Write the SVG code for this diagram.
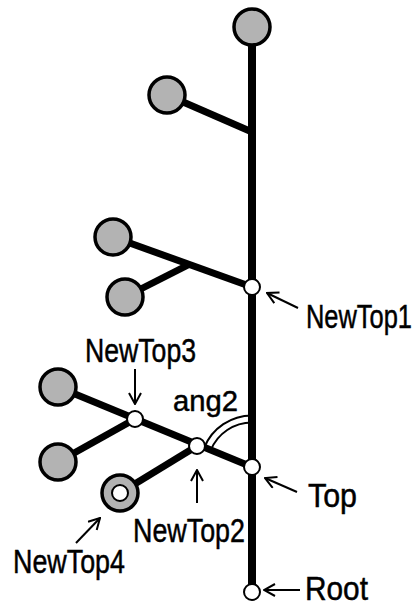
<svg xmlns="http://www.w3.org/2000/svg" width="417" height="605" viewBox="0 0 417 605">
<style>
.edge{stroke:#000;stroke-width:7;stroke-linecap:butt;fill:none}
.main{stroke:#000;stroke-width:8;fill:none}
.leaf{fill:#b3b3b3;stroke:#000;stroke-width:3.5}
.pt{fill:#fff;stroke:#000;stroke-width:2}
.arr{stroke:#000;stroke-width:2;fill:none;marker-start:url(#ah)}
.lbl{font-family:"Liberation Sans",Arial,sans-serif;font-size:34px;fill:#000;stroke:#000;stroke-width:0.5}
</style>
<defs>
<marker id="ah" viewBox="-1 -7 14 14" markerWidth="14" markerHeight="14" refX="0" refY="0" orient="auto" markerUnits="userSpaceOnUse">
<path d="M11,-6 L0,0 L11,6" stroke="#000" stroke-width="2" fill="none"/>
</marker>
</defs>
<g id="angle">
<path d="M252,419 A48,48 0 0 0 207.6,448.7" stroke="#000" stroke-width="9" fill="none"/>
<path d="M252,419 A48,48 0 0 0 207.6,448.7" stroke="#fff" stroke-width="5" fill="none"/>
</g>
<g id="connectors">
<line class="main" x1="252" y1="27" x2="252" y2="592"/>
<line class="edge" x1="167" y1="95" x2="252" y2="132"/>
<line class="edge" x1="113" y1="237" x2="252" y2="287"/>
<line class="edge" x1="125" y1="297" x2="190" y2="264"/>
<line class="edge" x1="58" y1="387" x2="252" y2="467"/>
<line class="edge" x1="58" y1="462" x2="135" y2="419"/>
<line class="edge" x1="120" y1="493" x2="197" y2="446"/>
</g>
<g id="leaf1"><circle class="leaf" cx="252" cy="27" r="18"/></g>
<g id="leaf2"><circle class="leaf" cx="167" cy="95" r="18"/></g>
<g id="leaf3"><circle class="leaf" cx="113" cy="237" r="18"/></g>
<g id="leaf4"><circle class="leaf" cx="125" cy="297" r="18"/></g>
<g id="leaf5"><circle class="leaf" cx="58" cy="387" r="18"/></g>
<g id="leaf6"><circle class="leaf" cx="58" cy="462" r="18"/></g>
<g id="newtop4"><circle class="leaf" cx="120" cy="493" r="18"/><circle class="pt" cx="120" cy="493" r="8"/></g>
<g id="newtop1"><circle class="pt" cx="252" cy="287" r="8"/></g>
<g id="newtop3"><circle class="pt" cx="135" cy="419" r="8"/></g>
<g id="newtop2"><circle class="pt" cx="197" cy="446" r="8"/></g>
<g id="top"><circle class="pt" cx="252" cy="467" r="8"/></g>
<g id="root"><circle class="pt" cx="252" cy="592" r="8"/></g>
<g id="arrows">
<line class="arr" x1="267" y1="293" x2="298" y2="308"/>
<line class="arr" x1="135" y1="404" x2="135" y2="369"/>
<line class="arr" x1="197" y1="470" x2="197" y2="503"/>
<line class="arr" x1="265" y1="478" x2="297" y2="492"/>
<line class="arr" x1="100" y1="518" x2="76" y2="543"/>
<line class="arr" x1="264" y1="590" x2="300" y2="590"/>
</g>
<g id="labels">
<text class="lbl" x="306" y="328" textLength="106" lengthAdjust="spacingAndGlyphs">NewTop1</text>
<text class="lbl" x="85" y="362" textLength="111" lengthAdjust="spacingAndGlyphs">NewTop3</text>
<text class="lbl" x="173" y="411" style="font-size:30px" textLength="65" lengthAdjust="spacingAndGlyphs">ang2</text>
<text class="lbl" x="308" y="507" textLength="49" lengthAdjust="spacingAndGlyphs">Top</text>
<text class="lbl" x="133" y="542" textLength="112" lengthAdjust="spacingAndGlyphs">NewTop2</text>
<text class="lbl" x="13" y="573" textLength="112" lengthAdjust="spacingAndGlyphs">NewTop4</text>
<text class="lbl" x="305" y="600" textLength="63" lengthAdjust="spacingAndGlyphs">Root</text>
</g>
</svg>
